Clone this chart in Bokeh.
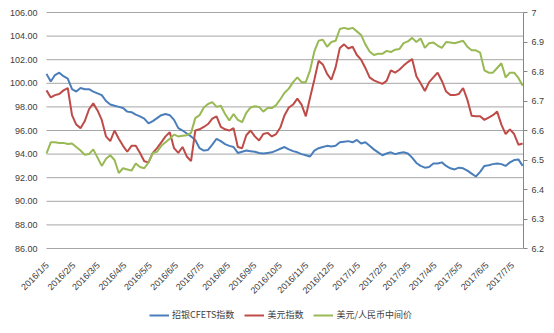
import pandas as pd
from bokeh.plotting import figure
from bokeh.models import (Range1d, LinearAxis, FixedTicker, NumeralTickFormatter,
                          Legend, LegendItem, ColumnDataSource)
from bokeh.core.properties import value
from bokeh.embed import file_html
from bokeh.resources import INLINE

start = pd.Timestamp("2016-01-05")
dates = pd.date_range(start, periods=113, freq="5D")

cfets = [100.8, 100.15, 100.7, 100.9, 100.6, 100.4, 99.5, 99.3, 99.6, 99.5,
         99.5, 99.3, 99.15, 99.0, 98.5, 98.2, 98.1, 98.0, 97.9, 97.6,
         97.55, 97.35, 97.2, 97.0, 96.6, 96.8, 97.05, 97.3, 97.4, 97.3,
         96.9, 96.2, 96.0, 95.75, 95.5, 95.2, 94.5, 94.3, 94.35, 94.8,
         95.3, 95.1, 94.85, 94.7, 94.6, 94.1, 94.2, 94.3, 94.25, 94.2,
         94.1, 94.05, 94.1, 94.15, 94.3, 94.45, 94.6, 94.4, 94.25, 94.15,
         94.0, 93.9, 93.8, 94.3, 94.5, 94.6, 94.7, 94.65, 94.7, 95.0,
         95.05, 95.1, 95.0, 95.2, 94.9, 95.0, 94.7, 94.4, 94.15, 93.9,
         94.05, 94.15, 94.0, 94.1, 94.15, 94.05, 93.7, 93.25, 93.0, 92.85,
         92.9, 93.2, 93.2, 93.3, 93.0, 92.8, 92.7, 92.85, 92.8, 92.6,
         92.35, 92.1, 92.5, 93.0, 93.05, 93.15, 93.2, 93.15, 93.0, 93.3,
         93.5, 93.55, 93.0]

usd_index = [99.4, 98.8, 99.0, 99.1, 99.4, 99.6, 97.3, 96.5, 96.2, 96.8,
             97.8, 98.3, 97.7, 96.9, 95.5, 95.1, 96.0, 95.3, 94.7, 94.2,
             94.7, 94.7, 94.1, 93.4, 93.3, 94.1, 94.5, 95.0, 95.5, 95.85,
             94.5, 94.1, 94.6, 93.8, 93.4, 96.0, 96.1, 96.3, 96.55, 97.0,
             97.2, 96.3, 96.1, 96.0, 96.2, 94.6, 94.5, 95.6, 96.0, 95.5,
             95.15, 95.7, 95.8, 95.5, 95.7, 96.25, 97.3, 97.95, 98.2, 98.7,
             98.2, 97.2, 98.8, 100.3, 101.9, 101.6, 100.8, 100.3, 101.35, 103.0,
             103.3, 102.95, 103.1, 102.4, 102.0, 101.3, 100.5, 100.25, 100.1, 99.95,
             100.2, 101.1, 100.9, 101.15, 101.5, 101.8, 102.05, 100.6, 100.0, 99.35,
             100.1, 100.5, 100.9, 100.2, 99.3, 99.0, 99.0, 99.1, 99.6, 98.6,
             97.25, 97.2, 97.2, 96.9, 97.1, 97.3, 97.6, 96.5, 95.7, 96.1,
             95.7, 94.8, 94.9]

usdcny = [6.522, 6.560, 6.560, 6.558, 6.558, 6.554, 6.556, 6.544, 6.532, 6.518,
          6.520, 6.536, 6.508, 6.480, 6.504, 6.516, 6.500, 6.456, 6.472, 6.468,
          6.464, 6.488, 6.476, 6.472, 6.492, 6.524, 6.528, 6.548, 6.560, 6.572,
          6.586, 6.580, 6.582, 6.584, 6.592, 6.642, 6.652, 6.678, 6.690, 6.696,
          6.680, 6.684, 6.656, 6.634, 6.656, 6.636, 6.628, 6.660, 6.678, 6.682,
          6.680, 6.664, 6.676, 6.676, 6.686, 6.706, 6.728, 6.742, 6.764, 6.780,
          6.764, 6.764, 6.804, 6.868, 6.904, 6.908, 6.884, 6.900, 6.904, 6.944,
          6.948, 6.944, 6.948, 6.936, 6.924, 6.892, 6.868, 6.856, 6.860, 6.860,
          6.870, 6.866, 6.874, 6.876, 6.896, 6.902, 6.914, 6.900, 6.912, 6.880,
          6.896, 6.898, 6.888, 6.880, 6.900, 6.898, 6.896, 6.900, 6.904, 6.884,
          6.872, 6.872, 6.864, 6.804, 6.796, 6.796, 6.812, 6.828, 6.780, 6.796,
          6.796, 6.778, 6.752]

tick_dates = ["2016-01-05", "2016-02-05", "2016-03-05", "2016-04-05", "2016-05-05",
              "2016-06-05", "2016-07-05", "2016-08-05", "2016-09-05", "2016-10-05",
              "2016-11-05", "2016-12-05", "2017-01-05", "2017-02-05", "2017-03-05",
              "2017-04-05", "2017-05-05", "2017-06-05", "2017-07-05"]
tick_labels = ["2016/1/5", "2016/2/5", "2016/3/5", "2016/4/5", "2016/5/5",
               "2016/6/5", "2016/7/5", "2016/8/5", "2016/9/5", "2016/10/5",
               "2016/11/5", "2016/12/5", "2017/1/5", "2017/2/5", "2017/3/5",
               "2017/4/5", "2017/5/5", "2017/6/5", "2017/7/5"]
left_ticks = [86, 88, 90, 92, 94, 96, 98, 100, 102, 104, 106]
left_labels = ["86.00", "88.00", "90.00", "92.00", "94.00", "96.00",
               "98.00", "100.00", "102.00", "104.00", "106.00"]
right_ticks = [6.2, 6.3, 6.4, 6.5, 6.6, 6.7, 6.8, 6.9, 7.0]

series_names = ["招银CFETS指数", "美元指数", "美元/人民币中间价"]
series_colors = ["#4A7EBB", "#BE4B48", "#98B954"]

days = [int((d - start).days) for d in dates]
tick_days = [int((pd.Timestamp(t) - start).days) for t in tick_dates]
x_end = 561

src = ColumnDataSource(dict(x=days, cfets=cfets, usd=usd_index, cny=usdcny))

FONT = "Liberation Sans"
CJK = "Noto Sans CJK SC"
TXT = "#404040"

# frame covers the whole canvas except the right axis panel
p = figure(width=554, height=333, output_backend="svg", toolbar_location=None,
           x_axis_location=None, y_axis_location=None,
           x_range=Range1d(-54.1, x_end), y_range=Range1d(78.797, 107.017),
           min_border=0, min_border_left=0, min_border_top=0, min_border_bottom=0,
           min_border_right=31)
p.outline_line_color = None
p.background_fill_color = "white"
p.border_fill_color = "white"
p.xgrid.grid_line_color = None
p.ygrid.grid_line_color = None

p.extra_y_ranges = {"r": Range1d(5.9119, 7.0407)}
raxis = LinearAxis(y_range_name="r", ticker=FixedTicker(ticks=right_ticks),
                   formatter=NumeralTickFormatter(format="0.[0]"))
raxis.bounds = (6.2, 7.0)
raxis.axis_line_color = "#868686"
raxis.major_tick_line_color = "#868686"
raxis.major_tick_in = 0
raxis.major_tick_out = 4
raxis.minor_tick_line_color = None
raxis.major_label_text_font = FONT
raxis.major_label_text_font_size = "9px"
raxis.major_label_text_color = TXT
raxis.major_label_standoff = 4
p.add_layout(raxis, "right")

# horizontal gridlines (86 line doubles as the category axis line)
grid_src = ColumnDataSource(dict(x0=[0] * len(left_ticks), x1=[x_end] * len(left_ticks),
                                 y=left_ticks, lab=left_labels))
p.segment(x0="x0", x1="x1", y0="y", y1="y", source=grid_src,
          line_color="#A6A6A6", line_width=1)

# left tick labels
p.text(x=0, y="y", text="lab", source=grid_src, x_offset=-9,
       text_align="right", text_baseline="middle",
       text_font=value(FONT), text_font_size="9px", text_color=TXT)

# rotated date labels under the category axis
xl_src = ColumnDataSource(dict(x=tick_days, y=[84.7] * len(tick_days), lab=tick_labels))
p.text(x="x", y="y", text="lab", source=xl_src, x_offset=1, angle=0.785398,
       text_align="right", text_baseline="middle",
       text_font=value(FONT), text_font_size="9px", text_color=TXT)

r1 = p.line("x", "cfets", source=src, color=series_colors[0], line_width=2)
r2 = p.line("x", "usd", source=src, color=series_colors[1], line_width=2)
r3 = p.line("x", "cny", source=src, color=series_colors[2], line_width=2, y_range_name="r")

legend = Legend(items=[LegendItem(label=series_names[0], renderers=[r1]),
                       LegendItem(label=series_names[1], renderers=[r2]),
                       LegendItem(label=series_names[2], renderers=[r3])],
                orientation="horizontal", location=(149, 12),
                border_line_color=None, background_fill_alpha=0,
                label_text_font=CJK, label_text_font_size="9px",
                label_text_color=TXT, glyph_width=20, glyph_height=10,
                label_height=12, label_standoff=3, spacing=10, padding=0, margin=0)
p.add_layout(legend, "center")

open("out.html", "w").write(file_html(p, INLINE))
